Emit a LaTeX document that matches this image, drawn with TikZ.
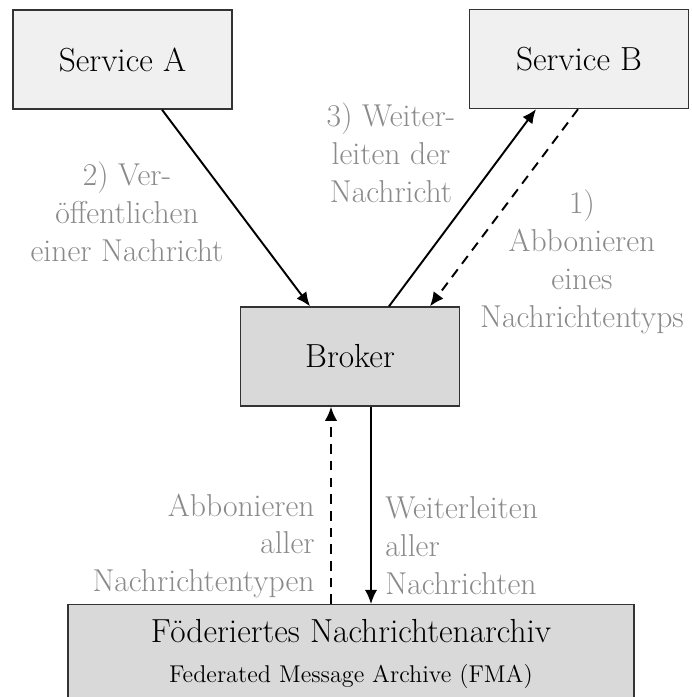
\documentclass[tikz,border=0pt]{standalone}
\usepackage{xcolor}
\usepackage{tikz}
\usetikzlibrary{arrows.meta,positioning,calc}
\definecolor{lblgray}{HTML}{8A8A8A}

\begin{document}
\begin{tikzpicture}[
  x=0.02cm, y=-0.02cm,
  svc/.style={draw=black!80, line width=0.8pt, fill=black!6, minimum width=4.38cm,
              minimum height=1.98cm, font=\fontsize{19}{21.6}\selectfont},
  core/.style={svc, fill=black!15},
  lbl/.style={text=lblgray, align=center, inner sep=0pt,
              font=\fontsize{18}{21.6}\selectfont},
  ar/.style={-{Latex[length=8pt,width=7pt]}, line width=1.1pt},
  sub/.style={ar, dash pattern=on 5.5pt off 4pt}
]
  \useasboundingbox (0,0) rectangle (692,697);
  \clip (0,0) rectangle (692,697);
  \node[svc] (sa) at (122.5,59.5) {Service A};
  \node[svc] (sb) at (579,59) {Service B};
  \node[core] (br) at (350,356.5) {Broker};
  \node[core, minimum width=11.32cm, align=center, anchor=north] (fma) at (351,604)
    {Föderiertes Nachrichtenarchiv\\[1pt]
     {\fontsize{13.8}{16}\selectfont Federated Message Archive (FMA)}};
  % connectors
  \draw[ar] ($(sa.south)+(39.5,0)$) -- ($(br.north)+(-40,0)$);
  \draw[ar] ($(br.north)+(39,0)$) -- ($(sb.south)+(-43,0)$);
  \draw[sub] ($(sb.south)+(-1,0)$) -- ($(br.north)+(80,0)$);
  \draw[sub] ($(fma.north)+(-20,0)$) -- ($(br.south)+(-19,0)$);
  \draw[ar] ($(br.south)+(21,0)$) -- ($(fma.north)+(20,0)$);
  % labels
  \node[lbl] (l2) at (127,212) {2) Ver-\\öffentlichen\\einer Nachricht};
  \node[lbl] (l3) at (391,153) {3) Weiter-\\leiten der\\Nachricht};
  \node[lbl] (l1) at (582,262) {1)\\Abbonieren\\eines\\Nachrichtentyps};
  \node[lbl, align=right, anchor=east] (l4) at (315,546)
    {Abbonieren\\aller\\Nachrichtentypen};
  \node[lbl, align=left, anchor=west] (l5) at (385,546)
    {Weiterleiten\\aller\\Nachrichten};
\end{tikzpicture}
\end{document}
